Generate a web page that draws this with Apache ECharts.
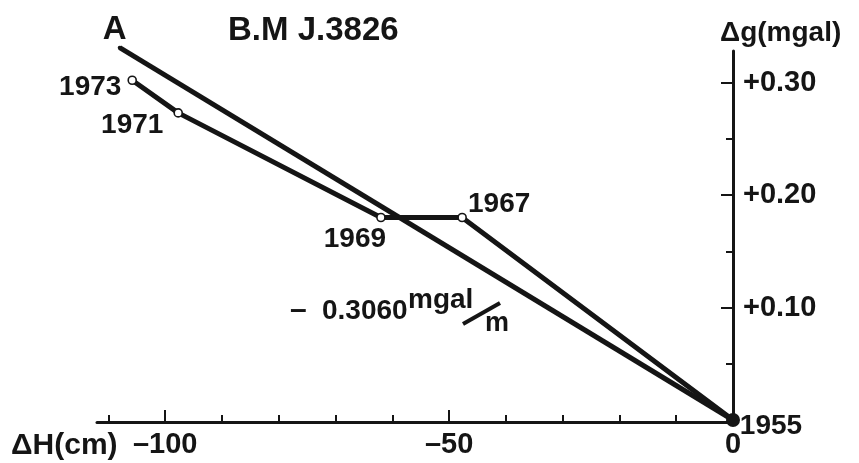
<!DOCTYPE html>
<html><head><meta charset="utf-8">
<script src="https://cdn.jsdelivr.net/npm/echarts@6/dist/echarts.min.js"></script>
<style>html,body{margin:0;padding:0;background:#fff}#c{width:859px;height:463px}</style>
</head><body><div id="c"></div>
<script>
// ---- data ----
const years = ['1973', '1971', '1969', '1967', '1955'];
const dH = [-105.8, -97.7, -62.0, -47.7, 0];          // ΔH (cm)
const dg = [0.302, 0.273, 0.180, 0.180, 0];          // Δg (mgal)
const lineAName = 'A';
const lineAdH = [-108, 0];
const lineAdg = [0.331, 0];
const xMajorTicks = [-100, -50, 0];
const xMinorTicks = [-110, -90, -80, -70, -60, -40, -30, -20, -10];
const yMajorTicks = [0.10, 0.20, 0.30];
const yMinorTicks = [0.05, 0.15, 0.25];

const INK = '#151515';
const FONT = '"Liberation Sans",Arial,sans-serif';
const labelOffsets = [[-42, 7], [-46, 12], [-26, 22], [37, -13], [38, 6]];

const chart = echarts.init(document.getElementById('c'), null, {renderer: 'canvas'});

const mainData = years.map((y, i) => {
  const last = i === years.length - 1;
  return {
    value: [dH[i], dg[i]],
    symbolSize: last ? 14 : 8,
    itemStyle: last ? {color: INK, borderColor: INK, borderWidth: 0}
                    : {color: '#fff', borderColor: INK, borderWidth: 1.6},
    label: {offset: labelOffsets[i]}
  };
});

const lineAData = lineAdH.map((x, i) => [x, lineAdg[i]]);

const tickStyle = {color: INK, width: 2};

chart.setOption({
  animation: false,
  backgroundColor: '#fff',
  grid: {left: 97, right: 126, top: 51, bottom: 43, containLabel: false},
  xAxis: [{
    type: 'value', min: -112, max: 0, position: 'bottom', offset: 2,
    axisLine: {show: true, onZero: false, lineStyle: {color: INK, width: 3}},
    axisTick: {show: true, inside: true, length: 12, customValues: xMajorTicks, lineStyle: tickStyle},
    axisLabel: {customValues: xMajorTicks, margin: 8, color: INK, fontSize: 29, fontWeight: 'bold',
      fontFamily: FONT, formatter: v => v < 0 ? '–' + Math.abs(v) : String(v)},
    splitLine: {show: false}
  }, {
    type: 'value', min: -112, max: 0, position: 'bottom', offset: 2,
    axisLine: {show: false, onZero: false},
    axisTick: {show: true, inside: true, length: 7, customValues: xMinorTicks, lineStyle: tickStyle},
    axisLabel: {show: false},
    splitLine: {show: false}
  }],
  yAxis: [{
    type: 'value', min: 0, max: 0.328, position: 'right',
    axisLine: {show: true, onZero: false, lineStyle: {color: INK, width: 3}},
    axisTick: {show: true, inside: true, length: 12, customValues: yMajorTicks, lineStyle: tickStyle},
    axisLabel: {customValues: yMajorTicks, margin: 10, color: INK, fontSize: 29, fontWeight: 'bold',
      fontFamily: FONT, formatter: v => '+' + v.toFixed(2)},
    splitLine: {show: false}
  }, {
    type: 'value', min: 0, max: 0.328, position: 'right',
    axisLine: {show: false, onZero: false},
    axisTick: {show: true, inside: true, length: 7, customValues: yMinorTicks, lineStyle: tickStyle},
    axisLabel: {show: false},
    splitLine: {show: false}
  }],
  series: [{
    name: lineAName, type: 'line', xAxisIndex: 0, yAxisIndex: 0, clip: false,
    data: lineAData, symbol: 'circle', symbolSize: 4, showAllSymbol: true,
    itemStyle: {color: INK}, lineStyle: {color: INK, width: 5},
    label: {show: true, position: 'inside', color: INK, fontFamily: FONT, fontSize: 33, fontWeight: 'bold',
      offset: [-5, -18], formatter: p => p.dataIndex === 0 ? lineAName : ''},
    z: 2
  }, {
    name: 'B.M J.3826', type: 'line', xAxisIndex: 0, yAxisIndex: 0, clip: false,
    data: mainData, symbol: 'circle', showAllSymbol: true,
    lineStyle: {color: INK, width: 5},
    label: {show: true, position: 'inside', color: INK, fontSize: 28, fontWeight: 'bold', fontFamily: FONT,
      formatter: p => years[p.dataIndex]},
    z: 3
  }],
  graphic: [
    {type: 'text', x: 228, y: 31, style: {text: 'B.M J.3826', fill: INK, font: 'bold 33px ' + FONT, verticalAlign: 'middle'}},
    {type: 'text', x: 720, y: 33, style: {text: 'Δg(mgal)', fill: INK, font: 'bold 28px ' + FONT, verticalAlign: 'middle'}},
    {type: 'text', x: 11, y: 446, style: {text: 'ΔH(cm)', fill: INK, font: 'bold 30px ' + FONT, verticalAlign: 'middle'}},
    {type: 'text', x: 290, y: 311, style: {text: '–', fill: INK, font: 'bold 30px ' + FONT, verticalAlign: 'middle'}},
    {type: 'text', x: 322, y: 311, style: {text: '0.3060', fill: INK, font: 'bold 28px ' + FONT, verticalAlign: 'middle'}},
    {type: 'text', x: 408, y: 300, style: {text: 'mgal', fill: INK, font: 'bold 28px ' + FONT, verticalAlign: 'middle'}},
    {type: 'line', shape: {x1: 463, y1: 324, x2: 500, y2: 303}, style: {stroke: INK, lineWidth: 4}},
    {type: 'text', x: 485, y: 324, style: {text: 'm', fill: INK, font: 'bold 27px ' + FONT, verticalAlign: 'middle'}}
  ]
});
</script></body></html>
